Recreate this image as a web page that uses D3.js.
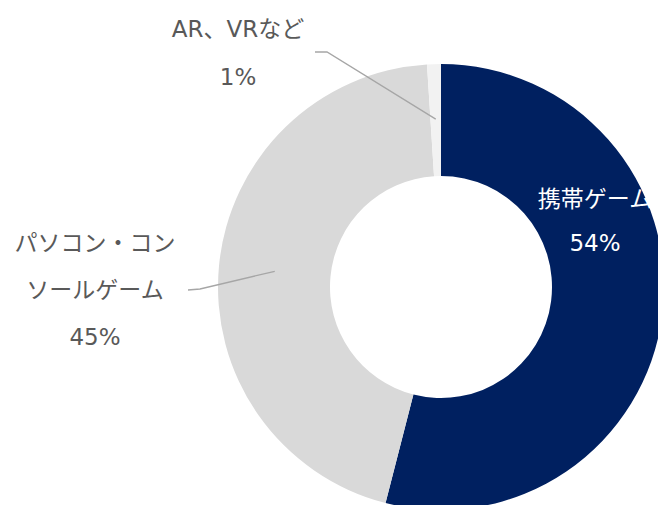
<!DOCTYPE html>
<html>
<head>
<meta charset="utf-8">
<script src="https://d3js.org/d3.v7.min.js"></script>
<style>
  body { margin: 0; background: #fff; }
  text { font-family: "DejaVu Sans", "Noto Sans CJK JP", sans-serif; }
</style>
</head>
<body>
<svg id="chart" width="658" height="505"></svg>
<script>
// chart data
const categories = ["携帯ゲーム", "パソコン・コンソールゲーム", "AR、VRなど"];
const values = [54, 45, 1];
const labelLines = [["携帯ゲーム"], ["パソコン・コン", "ソールゲーム"], ["AR、VRなど"]];
const colors = ["#002060", "#d9d9d9", "#f2f2f2"];

const cx = 441, cy = 287, outerR = 223, innerR = 111;

const svg = d3.select("#chart");
const g = svg.append("g").attr("transform", "translate(" + cx + "," + cy + ")");

const pie = d3.pie().sort(null).value(d => d)(values);
const arc = d3.arc().innerRadius(innerR).outerRadius(outerR);

g.selectAll("path")
  .data(pie)
  .enter()
  .append("path")
  .attr("d", arc)
  .attr("fill", (d, i) => colors[i]);

// label placement (page coords)
const labelPos = [
  {x: 595, y: 207, fill: "#ffffff", gap: 44},
  {x: 95, y: 251, fill: "#595959", gap: 47},
  {x: 238, y: 37, fill: "#595959", gap: 48}
];

pie.forEach(function(d, i) {
  const p = labelPos[i];
  const lines = labelLines[i].concat([Math.round(values[i]) + "%"]);
  lines.forEach(function(t, j) {
    svg.append("text")
      .attr("x", p.x)
      .attr("y", p.y + j * p.gap)
      .attr("text-anchor", "middle")
      .attr("font-size", 23)
      .attr("fill", p.fill)
      .text(t);
  });
});

// leader lines
const leader = d3.line();
const mid = d => (d.startAngle + d.endAngle) / 2;
const onArc = (ang, r) => [cx + r * Math.sin(ang), cy - r * Math.cos(ang)];

const p1 = onArc(mid(pie[1]), outerR - 56);
svg.append("path")
  .attr("d", leader([[188, 290], [200, 289], p1]))
  .attr("fill", "none")
  .attr("stroke", "#a6a6a6")
  .attr("stroke-width", 1.3);

const p2 = onArc(mid(pie[2]), outerR - 55);
svg.append("path")
  .attr("d", leader([[315, 52], [327, 52], p2]))
  .attr("fill", "none")
  .attr("stroke", "#a6a6a6")
  .attr("stroke-width", 1.3);
</script>
</body>
</html>
